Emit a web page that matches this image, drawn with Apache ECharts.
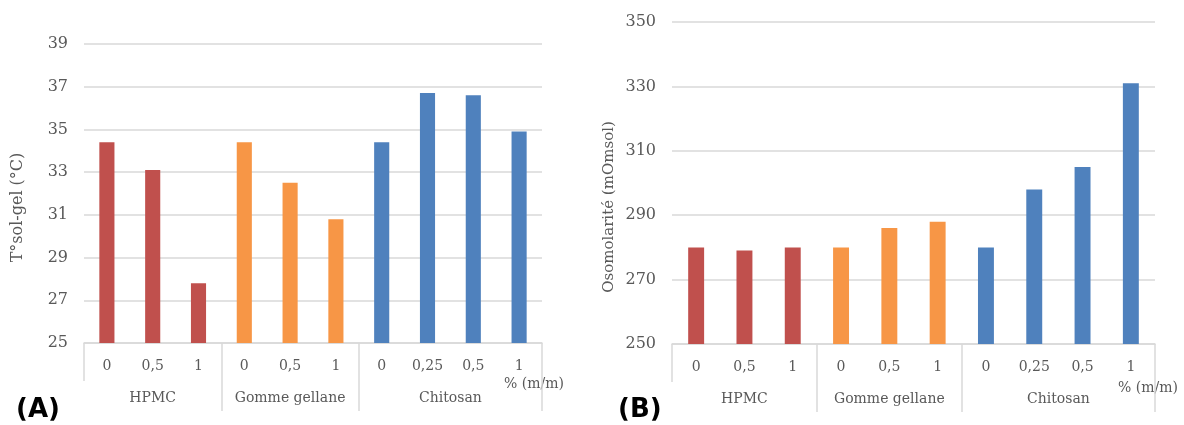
<!DOCTYPE html>
<html><head><meta charset="utf-8">
<script src="https://cdn.jsdelivr.net/npm/echarts@6/dist/echarts.min.js"></script>
<style>html,body{margin:0;padding:0;background:#fff}#c{width:1184px;height:425px}</style>
</head><body><div id="c"></div>
<script>
// ---- data ----
const subCategories = ['0', '0,5', '1', '0', '0,5', '1', '0', '0,25', '0,5', '1'];
const groups = ['HPMC', 'Gomme gellane', 'Chitosan'];
const groupSizes = [3, 3, 4];
const solGelTemp = [34.4, 33.1, 27.8, 34.4, 32.5, 30.8, 34.4, 36.7, 36.6, 34.9];
const osmolarity = [280, 279, 280, 280, 286, 288, 280, 298, 305, 331];
const tempAxis = { min: 25, max: 39, step: 2 };
const osmAxis = { min: 250, max: 350, step: 20 };
const unitLabel = '% (m/m)';

// ---- styles ----
const groupColors = ['#C0504D', '#F79646', '#4F81BD'];
const txt = '#595959';
const gridCol = '#d9d9d9';
const serif = 'DejaVu Serif';

const groupOf = [];
groupSizes.forEach((s, g) => { for (let i = 0; i < s; i++) groupOf.push(g); });
const groupStarts = groupSizes.map((s, g) => groupSizes.slice(0, g).reduce((a, b) => a + b, 0));
const groupCenters2 = groupSizes.map((s, g) => groupStarts[g] * 2 + s); // in half-category units
const boundaryIdx = groupStarts.slice(1);

const chart = echarts.init(document.getElementById('c'), null, { renderer: 'canvas' });

const grids = [], xAxes = [], yAxes = [], series = [];

function panel(rect, values, ax, title, titleSize, titleGap, titleShift) {
  const base = grids.length;
  for (let k = 0; k < 3; k++) grids.push(Object.assign({ containLabel: false }, rect));
  const n = subCategories.length;
  // main category axis: sub labels + long separators
  xAxes.push({
    type: 'category', gridIndex: base, data: subCategories, position: 'bottom',
    axisLine: { lineStyle: { color: gridCol, width: 1.5 } },
    axisTick: { show: true, length: 68, interval: (i) => boundaryIdx.indexOf(i) >= 0, lineStyle: { color: gridCol, width: 1.5 } },
    axisLabel: { color: txt, fontFamily: serif, fontSize: 14, margin: 16, interval: 0 }
  });
  // short separator at the start
  xAxes.push({
    type: 'category', gridIndex: base + 1, data: subCategories, position: 'bottom',
    axisLine: { show: false },
    axisTick: { show: true, length: 38, interval: (i) => i === 0, lineStyle: { color: gridCol, width: 1.5 } },
    axisLabel: { show: false }
  });
  // group labels
  xAxes.push({
    type: 'value', gridIndex: base + 2, min: 0, max: n * 2, interval: 1, position: 'bottom',
    axisLine: { show: false }, axisTick: { show: false }, splitLine: { show: false },
    axisLabel: {
      color: txt, fontFamily: serif, fontSize: 14, margin: 48, showMinLabel: true, showMaxLabel: true,
      formatter: (v) => { const g = groupCenters2.indexOf(Math.round(v)); return g >= 0 ? groups[g] : ''; }
    }
  });
  yAxes.push({
    type: 'value', gridIndex: base, min: 0, max: ax.max - ax.min, interval: ax.step,
    axisLine: { show: false }, axisTick: { show: false },
    splitLine: { lineStyle: { color: gridCol, width: 1.5 } },
    axisLabel: { color: txt, fontFamily: serif, fontSize: 16, margin: 16, formatter: (v) => String(v + ax.min) },
    name: title, nameLocation: 'middle', nameGap: titleGap,
    nameTextStyle: { color: txt, fontFamily: serif, fontSize: titleSize, padding: [0, titleShift, 0, 0] }
  });
  for (let k = 1; k < 3; k++) yAxes.push({ type: 'value', gridIndex: base + k, min: 0, max: ax.max - ax.min, show: false });
  series.push({
    type: 'bar', xAxisIndex: base, yAxisIndex: base, barWidth: '33%',
    data: values.map((v, i) => ({ value: v - ax.min, itemStyle: { color: groupColors[groupOf[i]] } }))
  });
}

panel({ left: 84, top: 44, width: 458, height: 299 }, solGelTemp, tempAxis, 'T°sol-gel (°C)', 16, 58, 28);
panel({ left: 672, top: 22, width: 483, height: 322 }, osmolarity, osmAxis, 'Osomolarité (mOmsol)', 15, 55, 48);

chart.setOption({
  animation: false,
  grid: grids, xAxis: xAxes, yAxis: yAxes, series: series,
  graphic: [
    { type: 'text', left: 16, top: 397, style: { text: '(A)', font: 'bold 26px "DejaVu Sans"', fill: '#000' } },
    { type: 'text', left: 618, top: 397, style: { text: '(B)', font: 'bold 26px "DejaVu Sans"', fill: '#000' } },
    { type: 'text', x: 534, y: 384, style: { text: unitLabel, font: '14px "DejaVu Serif"', fill: txt, align: 'center', verticalAlign: 'middle' } },
    { type: 'text', x: 1148, y: 388, style: { text: unitLabel, font: '14px "DejaVu Serif"', fill: txt, align: 'center', verticalAlign: 'middle' } }
  ]
});
</script></body></html>
